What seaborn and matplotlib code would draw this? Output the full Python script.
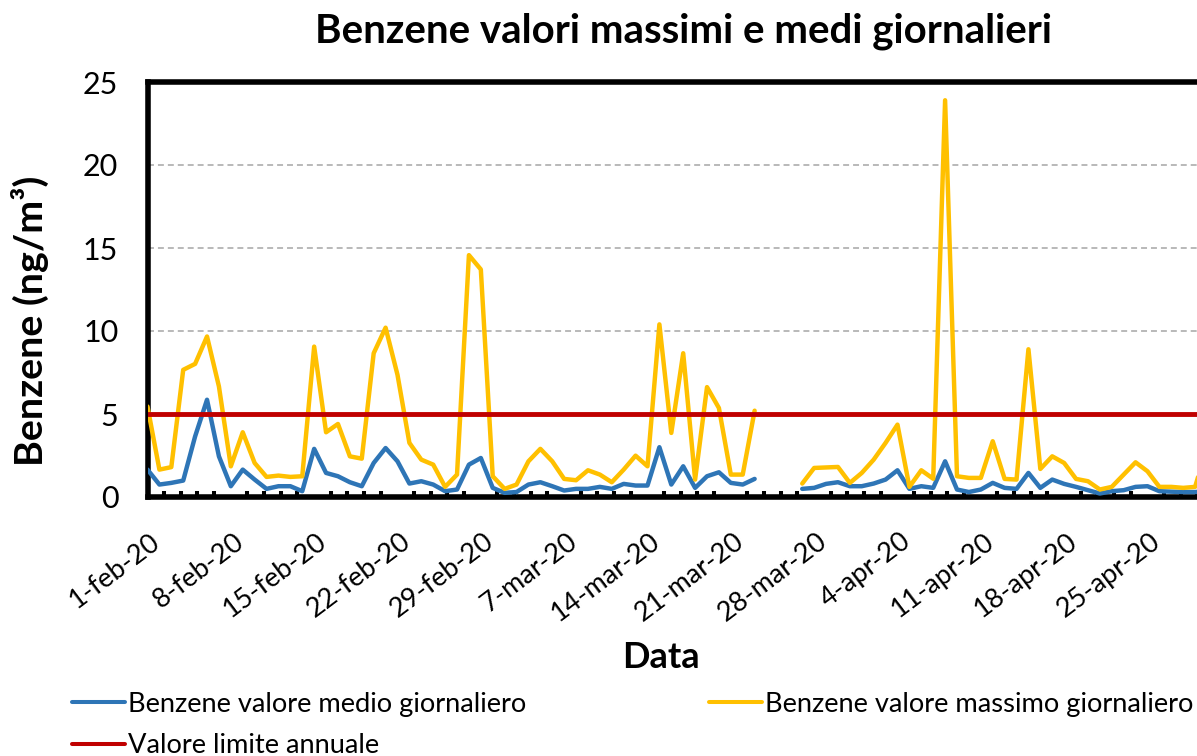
import numpy as np
import pandas as pd
import matplotlib
matplotlib.use("Agg")
import matplotlib.pyplot as plt
import matplotlib.dates as mdates
import matplotlib.transforms as mtransforms
from matplotlib.lines import Line2D
from matplotlib.ticker import FixedLocator, NullFormatter
import seaborn as sns

# ---------------- data ----------------
start_date = "2020-02-01"
end_date = "2020-04-30"

medio = [1.65, 0.75, 0.85, 0.99, 3.65, 5.86, 2.45, 0.65, 1.65, 1.05,
         0.49, 0.65, 0.65, 0.35, 2.90, 1.45, 1.25, 0.89, 0.65, 2.05,
         2.95, 2.15, 0.81, 0.95, 0.75, 0.35, 0.45, 1.95, 2.35, 0.55,
         0.25, 0.30, 0.75, 0.89, 0.65, 0.39, 0.49, 0.49, 0.61, 0.49,
         0.79, 0.69, 0.69, 3.00, 0.75, 1.85, 0.55, 1.25, 1.49, 0.85,
         0.75, 1.09, np.nan, np.nan, np.nan, 0.49, 0.55, 0.79, 0.89, 0.65,
         0.65, 0.81, 1.05, 1.61, 0.49, 0.65, 0.55, 2.15, 0.45, 0.30,
         0.45, 0.85, 0.55, 0.49, 1.45, 0.55, 1.05, 0.79, 0.61, 0.41,
         0.21, 0.35, 0.41, 0.61, 0.65, 0.35, 0.32, 0.30, 0.30, 0.35]

massimo = [5.45, 1.65, 1.80, 7.66, 8.02, 9.67, 6.66, 1.85, 3.90, 2.05,
           1.21, 1.29, 1.21, 1.25, 9.06, 3.90, 4.40, 2.45, 2.31, 8.66,
           10.20, 7.36, 3.26, 2.25, 1.95, 0.61, 1.35, 14.57, 13.71, 1.25,
           0.49, 0.75, 2.15, 2.90, 2.15, 1.09, 1.01, 1.61, 1.35, 0.89,
           1.65, 2.49, 1.85, 10.40, 3.86, 8.66, 1.05, 6.62, 5.36, 1.35,
           1.35, 5.20, np.nan, np.nan, np.nan, 0.81, 1.75, 1.78, 1.81, 0.85,
           1.45, 2.25, 3.26, 4.36, 0.61, 1.61, 1.10, 23.90, 1.25, 1.15,
           1.15, 3.36, 1.09, 1.05, 8.90, 1.69, 2.45, 2.05, 1.09, 0.95,
           0.45, 0.61, 1.35, 2.09, 1.55, 0.61, 0.61, 0.55, 0.61, 3.00]

limite = 5.0

tick_dates = ["2020-02-01", "2020-02-08", "2020-02-15", "2020-02-22", "2020-02-29",
              "2020-03-07", "2020-03-14", "2020-03-21", "2020-03-28", "2020-04-04",
              "2020-04-11", "2020-04-18", "2020-04-25"]
tick_labels = ["1-feb-20", "8-feb-20", "15-feb-20", "22-feb-20", "29-feb-20",
               "7-mar-20", "14-mar-20", "21-mar-20", "28-mar-20", "4-apr-20",
               "11-apr-20", "18-apr-20", "25-apr-20"]
y_ticks = [0, 5, 10, 15, 20, 25]

series_names = ["Benzene valore medio giornaliero",
                "Benzene valore massimo giornaliero",
                "Valore limite annuale"]
title_text = "Benzene valori massimi e medi giornalieri"
ylabel_text = "Benzene (ng/m³)"
xlabel_text = "Data"

# ---------------- style ----------------
BLUE = "#2E75B6"
YELLOW = "#FFC000"
RED = "#C00000"

sns.set_style("white")
plt.rcParams["font.family"] = ["Lato", "DejaVu Sans"]
plt.rcParams["text.color"] = "black"
plt.rcParams["axes.labelcolor"] = "black"
plt.rcParams["xtick.color"] = "black"
plt.rcParams["ytick.color"] = "black"

W, H = 1197, 756
fig = plt.figure(figsize=(W / 100, H / 100), dpi=100)
L, R, T, B = 147.5, 1207.0, 82.0, 497.0
ax = fig.add_axes([L / W, 1 - B / H, (R - L) / W, (B - T) / H])

dates = pd.date_range(start_date, end_date, freq="D")
df = pd.DataFrame({"date": dates, "medio": medio, "massimo": massimo})
df["segment"] = df["medio"].isna().cumsum()
df = df.dropna()

LW = 3.2
line_kw = dict(solid_joinstyle="round", solid_capstyle="round")
sns.lineplot(data=df, x="date", y="medio", units="segment", estimator=None,
             color=BLUE, lw=LW, ax=ax, zorder=3, **line_kw)
sns.lineplot(data=df, x="date", y="massimo", units="segment", estimator=None,
             color=YELLOW, lw=LW, ax=ax, zorder=4, **line_kw)
ax.axhline(limite, color=RED, lw=3.5, zorder=5)

# axes limits / ticks
x0 = mdates.date2num(pd.Timestamp(start_date))
x1 = mdates.date2num(pd.Timestamp(end_date))
ax.set_xlim(x0, x1)
ax.set_ylim(0, 25)
ax.yaxis.set_major_locator(FixedLocator(y_ticks))
ax.set_yticklabels([str(v) for v in y_ticks])
ax.xaxis.set_major_locator(FixedLocator(mdates.date2num(pd.to_datetime(tick_dates))))
ax.set_xticklabels(tick_labels)
ax.xaxis.set_minor_locator(FixedLocator(np.arange(x0, x1 + 1, 1.4)))
ax.xaxis.set_minor_formatter(NullFormatter())

ax.grid(axis="y", color="#A6A6A6", lw=1.1, linestyle=(0, (3.9, 2.6)), zorder=0.5)
ax.grid(axis="x", visible=False)
ax.set_axisbelow(True)

for side in ["left", "bottom", "top", "right"]:
    ax.spines[side].set_color("black")
    ax.spines[side].set_linewidth(4.0)
    ax.spines[side].set_visible(True)

ax.tick_params(axis="y", which="major", direction="in", length=6.5, width=2.9,
               color="black", labelsize=22, pad=21, labelcolor="black")
ax.tick_params(axis="x", which="major", direction="in", length=5.6, width=2.9,
               color="black", labelsize=19.5, pad=30, labelcolor="black")
ax.tick_params(axis="x", which="minor", direction="in", length=4.3, width=2.9,
               color="black", bottom=True)

offset = mtransforms.ScaledTranslation(10 / 100, 0, fig.dpi_scale_trans)
for lab in ax.get_xticklabels():
    lab.set_rotation(37)
    lab.set_ha("right")
    lab.set_va("center")
    lab.set_rotation_mode("anchor")
    lab.set_transform(lab.get_transform() + offset)

# labels & title
ax.set_ylabel(ylabel_text, fontsize=28.4, fontweight="bold", va="center")
ax.yaxis.set_label_coords((30 - L) / (R - L), (B - 321) / (B - T))
ax.set_xlabel(xlabel_text, fontsize=26, fontweight="bold", va="center")
ax.xaxis.set_label_coords((661 - L) / (R - L), (B - 657) / (B - T))
ax.set_title(title_text, fontsize=29, fontweight="bold", va="center",
             x=(683 - L) / (R - L), y=(B - 31) / (B - T), pad=0)

# legend
handles = [Line2D([], [], color=BLUE, lw=2.9),
           Line2D([], [], color=RED, lw=2.9),
           Line2D([], [], color=YELLOW, lw=2.9)]
labels = [series_names[0], series_names[2], series_names[1]]
fig.legend(handles, labels, ncol=2, loc="upper left",
           bbox_to_anchor=(72 / W, 1 - 692 / H), frameon=False,
           borderpad=0, borderaxespad=0, fontsize=19.6,
           handlelength=1.95, handletextpad=0.12, columnspacing=6.7,
           labelspacing=0.6)

fig.savefig("out.png", dpi=100)
